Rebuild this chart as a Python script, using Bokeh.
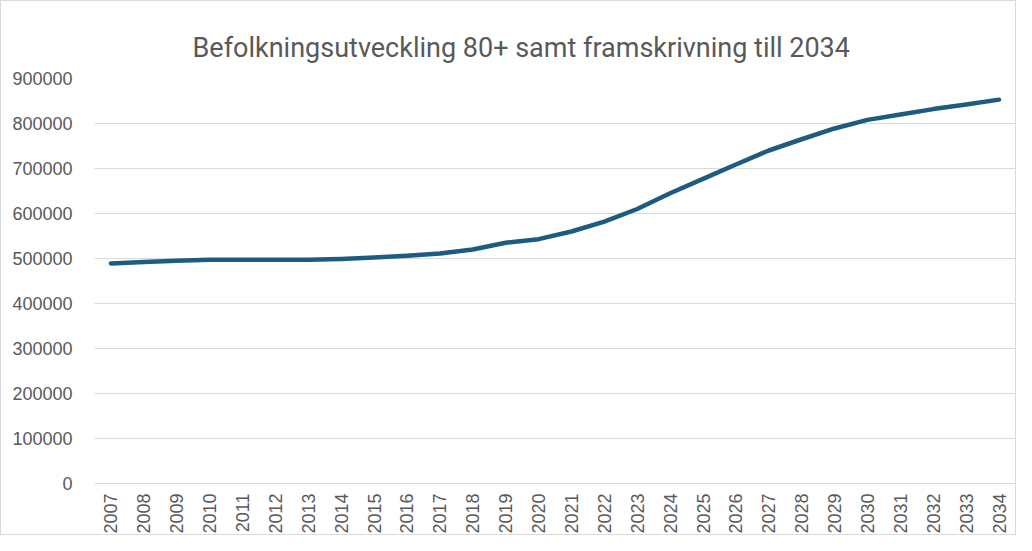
from bokeh.plotting import figure
from bokeh.models import Range1d, FixedTicker, NumeralTickFormatter, FactorRange
from bokeh.embed import file_html
from bokeh.resources import INLINE
import math

years = [str(y) for y in range(2007, 2035)]
population = [489000, 492000, 495000, 497000, 497000, 497000, 497000, 499000,
              502000, 506000, 511000, 520000, 535000, 543000, 560000, 582000,
              610000, 645000, 677000, 709000, 740000, 765000, 789000, 808000,
              820000, 832000, 842000, 853000]
y_ticks = list(range(0, 900001, 100000))

title_text = "Befolkningsutveckling 80+ samt framskrivning till 2034"

p = figure(width=1016, height=535, x_range=FactorRange(factors=years),
           y_range=Range1d(0, 900000), output_backend="svg",
           toolbar_location=None, title=title_text,
           min_border_left=93, min_border_right=2, min_border_top=77,
           min_border_bottom=52)

p.title.align = "left"
p.title.offset = 98
p.title.text_font = "Roboto"
p.title.text_font_size = "27px"
p.title.text_font_style = "normal"
p.title.text_color = "#595959"
p.title.standoff = 29

p.line(x=years, y=population, line_color="#1D5C80", line_width=4.5,
       line_cap="round", line_join="round")

p.outline_line_color = None
p.background_fill_color = "white"
p.border_fill_color = "white"

p.xgrid.grid_line_color = None
p.ygrid.grid_line_color = "#d9d9d9"
p.ygrid.grid_line_width = 1
p.yaxis.ticker = FixedTicker(ticks=y_ticks)
p.yaxis.formatter = NumeralTickFormatter(format="0")

for ax in (p.xaxis, p.yaxis):
    ax.axis_line_color = None
    ax.major_tick_line_color = None
    ax.minor_tick_line_color = None
    ax.major_label_text_font = "Liberation Sans"
    ax.major_label_text_font_size = "18px"
    ax.major_label_text_color = "#595959"

p.xaxis.axis_line_color = "#d9d9d9"
p.xaxis.major_label_orientation = math.pi / 2
p.xaxis.major_label_standoff = 4
p.yaxis.major_label_standoff = 16

p.styles = {"border": "1px solid #d9d9d9"}

open("out.html", "w").write(file_html(p, INLINE))
